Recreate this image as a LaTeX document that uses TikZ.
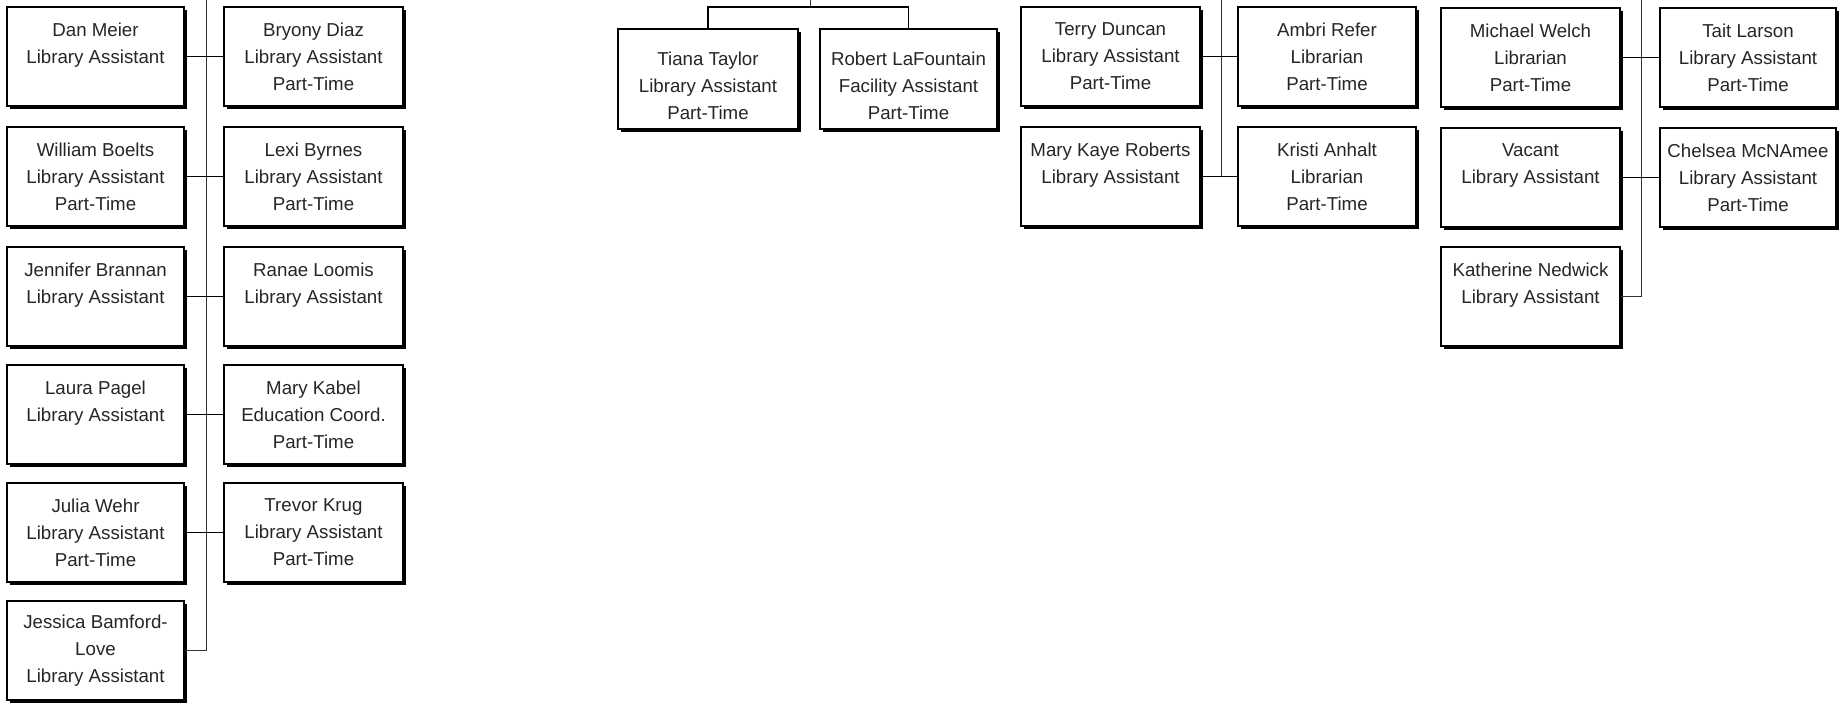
\documentclass[tikz,border=0pt]{standalone}
\usepackage{fontspec}
\setmainfont{Liberation Sans}
\usetikzlibrary{shadows}
\definecolor{ink}{HTML}{262626}
\tikzset{
  staff/.style={draw=black, line width=0.55pt, fill=white, align=center,
    inner sep=0pt, minimum height=49.5pt, text=ink,
    font=\fontsize{9.35}{13.5}\selectfont,
    general shadow={fill=black, shadow xshift=1.6pt, shadow yshift=-1.6pt}},
  lcol/.style={staff, minimum width=88.5pt},
  rcol/.style={staff, minimum width=89.5pt},
  link/.style={draw=black, line width=0.8pt},
  trunk/.style={draw=black!80, line width=0.5pt}
}
% taller first line, used to set the text lower in a box
\newcommand{\lowfirst}{\rule{0pt}{13.6pt}}
\begin{document}
\begin{tikzpicture}[x=0.5pt, y=-0.5pt]
\useasboundingbox (0,0) rectangle (1840,705);

% ---- first team: two columns of staff hanging from one line
\node[lcol] (dan)      at (95.5,56.5)  {Dan Meier\\Library Assistant\\\mbox{}};
\node[rcol] (bryony)   at (313.5,56.5) {Bryony Diaz\\Library Assistant\\Part-Time};
\node[lcol] (william)  at (95.5,176.5) {William Boelts\\Library Assistant\\Part-Time};
\node[rcol] (lexi)     at (313.5,176.5){Lexi Byrnes\\Library Assistant\\Part-Time};
\node[lcol] (jennifer) at (95.5,296.5) {Jennifer Brannan\\Library Assistant\\\mbox{}};
\node[rcol] (ranae)    at (313.5,296.5){Ranae Loomis\\Library Assistant\\\mbox{}};
\node[lcol] (laura)    at (95.5,414.5) {Laura Pagel\\Library Assistant\\\mbox{}};
\node[rcol] (kabel)    at (313.5,414.5){Mary Kabel\\Education Coord.\\Part-Time};
\node[lcol] (julia)    at (95.5,532.5) {Julia Wehr\\Library Assistant\\Part-Time};
\node[rcol] (trevor)   at (313.5,532.5){Trevor Krug\\Library Assistant\\Part-Time};
\node[lcol] (jessica)  at (95.5,650.5) {Jessica Bamford-\\Love\\Library Assistant};

\coordinate (atop) at (206,0);
\draw[trunk] (atop) |- (jessica.east);
\foreach \l/\r in {dan/bryony, william/lexi, jennifer/ranae, laura/kabel, julia/trevor}
  \draw[link] (\l.east) -- (\r.west);

% ---- second team: two staff under a bracket
\node[staff, minimum width=90pt, minimum height=50pt] (tiana)  at (708,79)
  {\lowfirst Tiana Taylor\\Library Assistant\\Part-Time};
\node[staff, minimum width=88.5pt, minimum height=50pt] (robert) at (908.5,79)
  {\lowfirst Robert LaFountain\\Facility Assistant\\Part-Time};
\coordinate (btop) at (810,0);
\coordinate (bjoin) at (810,7);
\draw[trunk] (btop) -- (bjoin);
\draw[link] (tiana.north) |- (bjoin) -| (robert.north);

% ---- third team
\node[staff, minimum width=89.5pt] (terry) at (1110.5,56.5) {Terry Duncan\\Library Assistant\\Part-Time};
\node[staff, minimum width=89pt]   (ambri) at (1327,56.5)   {Ambri Refer\\Librarian\\Part-Time};
\node[staff, minimum width=89.5pt] (marykaye) at (1110.5,176.5) {Mary Kaye Roberts\\Library Assistant\\\mbox{}};
\node[staff, minimum width=89pt]   (kristi) at (1327,176.5) {Kristi Anhalt\\Librarian\\Part-Time};
\coordinate (ctop) at (1221,0);
\coordinate (cend) at (1221,176.5);
\draw[trunk] (ctop) -- (cend);
\draw[link] (terry.east) -- (ambri.west);
\draw[link] (marykaye.east) -- (kristi.west);

% ---- fourth team
\node[staff, minimum width=89.5pt] (michael) at (1530.5,57.5) {Michael Welch\\Librarian\\Part-Time};
\node[staff, minimum width=88pt]   (tait)    at (1748,57.5)   {Tait Larson\\Library Assistant\\Part-Time};
\node[staff, minimum width=89.5pt] (vacant)  at (1530.5,177.5) {Vacant\\Library Assistant\\\mbox{}};
\node[staff, minimum width=88pt]   (chelsea) at (1748,177.5)  {Chelsea McNAmee\\Library Assistant\\Part-Time};
\node[staff, minimum width=89.5pt] (katherine) at (1530.5,296.5) {Katherine Nedwick\\Library Assistant\\\mbox{}};
\coordinate (dtop) at (1641,0);
\draw[trunk] (dtop) |- (katherine.east);
\draw[link] (michael.east) -- (tait.west);
\draw[link] (vacant.east) -- (chelsea.west);
\end{tikzpicture}
\end{document}
